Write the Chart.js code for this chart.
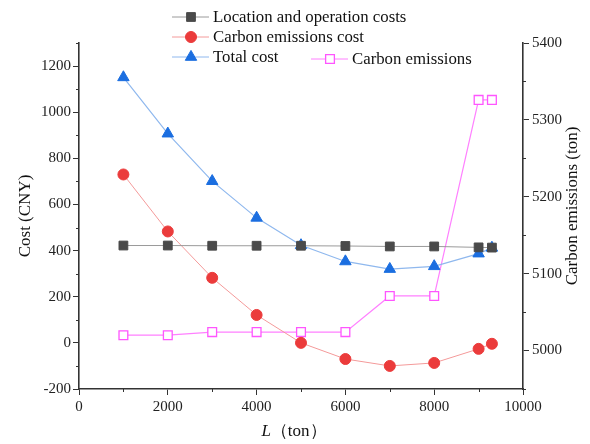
<!DOCTYPE html>
<html>
<head>
<meta charset="utf-8">
<script src="https://cdn.jsdelivr.net/npm/chart.js@4.4.0/dist/chart.umd.min.js"></script>
<style>
  body { margin: 0; background: #fff; }
  #wrap { width: 590px; height: 444px; }
</style>
</head>
<body>
<div id="wrap"><canvas id="costChart" width="590" height="444"></canvas></div>
<script>
// data
const loads = [1000, 2000, 3000, 4000, 5000, 6000, 7000, 8000, 9000, 9300];
const locationCost = [422, 422, 421, 421, 421, 420, 418, 418, 414, 413];
const carbonCost = [730, 483, 282, 121, 0, -70, -100, -87, -26, -4];
const totalCost = [1151, 907, 701, 542, 423, 353, 320, 332, 387, 412];
const carbonEmissions = [5020, 5020, 5024, 5024, 5024, 5024, 5071, 5071, 5326, 5326];

const xTickLabels = [0, 2000, 4000, 6000, 8000, 10000];
const costTickLabels = [-200, 0, 200, 400, 600, 800, 1000, 1200];
const emissionTickLabels = [5000, 5100, 5200, 5300, 5400];

const serif = 'Liberation Serif';
const axisColor = '#333';

function pts(ys) {
  return loads.map((x, i) => ({ x: x, y: ys[i] }));
}

// legend drawn by hand so it can sit in the two-column layout of the original
const legendSpots = [
  { x: 172, y: 17 },
  { x: 172, y: 37 },
  { x: 172, y: 57 },
  { x: 311, y: 59 }
];

function majorOnly(labels) {
  return c => labels.includes(c.tick.value) ? axisColor : 'rgba(0,0,0,0)';
}

const customLegend = {
  id: 'customLegend',
  afterDraw(chart) {
    const ctx = chart.ctx;
    ctx.save();

    // short minor ticks
    ctx.strokeStyle = axisColor;
    ctx.lineWidth = 1;
    const sx = chart.scales.x, sy = chart.scales.y, sy1 = chart.scales.y1;
    ctx.beginPath();
    sx.ticks.forEach(t => {
      if (xTickLabels.includes(t.value)) return;
      const px = Math.round(sx.getPixelForValue(t.value)) + 0.5;
      ctx.moveTo(px, sx.top); ctx.lineTo(px, sx.top + 3);
    });
    sy.ticks.forEach(t => {
      if (costTickLabels.includes(t.value)) return;
      const py = Math.round(sy.getPixelForValue(t.value)) + 0.5;
      ctx.moveTo(sy.right, py); ctx.lineTo(sy.right - 3, py);
    });
    sy1.ticks.forEach(t => {
      if (emissionTickLabels.includes(t.value)) return;
      const py = Math.round(sy1.getPixelForValue(t.value)) + 0.5;
      ctx.moveTo(sy1.left, py); ctx.lineTo(sy1.left + 3, py);
    });
    ctx.stroke();

    chart.data.datasets.forEach((ds, i) => {
      const p = legendSpots[i];
      ctx.strokeStyle = ds.borderColor;
      ctx.lineWidth = 1;
      ctx.beginPath();
      ctx.moveTo(p.x, p.y);
      ctx.lineTo(p.x + 37, p.y);
      ctx.stroke();
      ctx.fillStyle = ds.pointBackgroundColor;
      ctx.strokeStyle = ds.pointBorderColor;
      ctx.lineWidth = ds.pointBorderWidth;
      Chart.helpers.drawPoint(ctx, {
        pointStyle: ds.pointStyle, radius: ds.pointRadius, rotation: 0, borderWidth: ds.pointBorderWidth
      }, p.x + 19, p.y);
      ctx.fillStyle = '#111';
      ctx.font = '16.8px "' + serif + '"';
      ctx.textBaseline = 'middle';
      ctx.textAlign = 'left';
      ctx.fillText(ds.label, p.x + 41, p.y + 1);
    });

    // x axis title with italic L
    const cx = 294, cy = 432;
    ctx.font = 'italic 17px "' + serif + '"';
    const wL = ctx.measureText('L').width;
    ctx.font = '17px "' + serif + '"';
    const wRest = ctx.measureText('（ton）').width;
    const startX = cx - (wL + wRest) / 2;
    ctx.fillStyle = '#111';
    ctx.textBaseline = 'middle';
    ctx.font = 'italic 17px "' + serif + '"';
    ctx.fillText('L', startX, cy);
    ctx.font = '17px "' + serif + '"';
    ctx.fillText('（ton）', startX + wL, cy);

    // right axis title, reading bottom to top
    ctx.translate(573, 206);
    ctx.rotate(-Math.PI / 2);
    ctx.textAlign = 'center';
    ctx.fillText('Carbon emissions (ton)', 0, 0);
    ctx.restore();
  }
};

const ctx = document.getElementById('costChart').getContext('2d');

new Chart(ctx, {
  type: 'line',
  data: {
    datasets: [{
      label: 'Location and operation costs',
      data: pts(locationCost),
      yAxisID: 'y',
      borderColor: '#9a9a9a',
      borderWidth: 1,
      pointStyle: 'rect',
      pointRadius: 6.2,
      pointBackgroundColor: '#4a4a4a',
      pointBorderColor: '#4a4a4a',
      pointBorderWidth: 1
    }, {
      label: 'Carbon emissions cost',
      data: pts(carbonCost),
      yAxisID: 'y',
      borderColor: '#f49a9a',
      borderWidth: 1,
      pointStyle: 'circle',
      pointRadius: 5.5,
      pointBackgroundColor: '#eb3b3b',
      pointBorderColor: '#eb3b3b',
      pointBorderWidth: 1
    }, {
      label: 'Total cost',
      data: pts(totalCost),
      yAxisID: 'y',
      borderColor: '#8fb8ee',
      borderWidth: 1.2,
      pointStyle: 'triangle',
      pointRadius: 6.6,
      pointBackgroundColor: '#1b6ee0',
      pointBorderColor: '#1b6ee0',
      pointBorderWidth: 1
    }, {
      label: 'Carbon emissions',
      data: pts(carbonEmissions),
      yAxisID: 'y1',
      borderColor: '#ff80ff',
      borderWidth: 1.2,
      pointStyle: 'rect',
      pointRadius: 6.2,
      pointBackgroundColor: '#ffffff',
      pointBorderColor: '#ff55ff',
      pointBorderWidth: 1.3
    }]
  },
  options: {
    responsive: false,
    animation: false,
    layout: { padding: { top: 43, left: 0, right: 0, bottom: 0 } },
    plugins: {
      legend: { display: false },
      tooltip: { enabled: false }
    },
    scales: {
      x: {
        type: 'linear',
        min: 0,
        max: 10000,
        afterFit: s => { s.height = 55; },
        border: { color: axisColor, width: 1.6 },
        grid: { drawOnChartArea: false, tickLength: 6, color: majorOnly(xTickLabels) },
        ticks: {
          stepSize: 1000,
          autoSkip: false,
          maxRotation: 0,
          padding: 3,
          color: '#222',
          font: { family: serif, size: 15 },
          callback: v => xTickLabels.includes(v) ? v : ''
        }
      },
      y: {
        position: 'left',
        min: -200,
        max: 1300,
        afterFit: s => { s.width = 79; },
        border: { color: axisColor, width: 1.6 },
        grid: { drawOnChartArea: false, tickLength: 6, color: majorOnly(costTickLabels) },
        ticks: {
          stepSize: 100,
          autoSkip: false,
          padding: 2,
          color: '#222',
          font: { family: serif, size: 15 },
          callback: v => costTickLabels.includes(v) ? v : ''
        },
        title: {
          display: true,
          text: 'Cost (CNY)',
          color: '#111',
          font: { family: serif, size: 17 },
          padding: { top: 15, bottom: 0 }
        }
      },
      y1: {
        position: 'right',
        min: 4950,
        max: 5400,
        afterFit: s => { s.width = 67; },
        border: { color: axisColor, width: 1.6 },
        grid: { drawOnChartArea: false, tickLength: 6, color: majorOnly(emissionTickLabels) },
        ticks: {
          stepSize: 50,
          autoSkip: false,
          padding: 3,
          color: '#222',
          font: { family: serif, size: 15 },
          callback: v => emissionTickLabels.includes(v) ? v : ''
        }
      }
    }
  },
  plugins: [customLegend]
});
</script>
</body>
</html>
